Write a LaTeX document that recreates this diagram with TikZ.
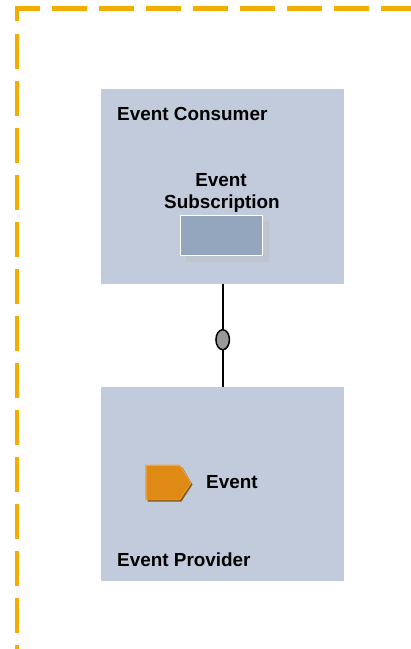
\documentclass[tikz,border=0pt]{standalone}
\usepackage{fontspec}
\usetikzlibrary{shapes.geometric}
\setmainfont{Liberation Sans}
\definecolor{boxblue}{HTML}{C1CBDB}
\definecolor{innerblue}{HTML}{94A6BD}
\definecolor{innershadow}{HTML}{BFC5CF}
\definecolor{dashorange}{HTML}{F2AE00}
\definecolor{evorange}{HTML}{E08A16}
\definecolor{evdark}{HTML}{8A5A12}
\definecolor{evlight}{HTML}{EBA94E}
\tikzset{
  x=1pt,y=-1pt,
  areabox/.style={fill=boxblue,draw=none,inner sep=0pt,anchor=north west},
  boundary/.style={draw=dashorange,line width=4.2pt,dash pattern=on 34.5pt off 12.5pt},
  txtleft/.style={font=\bfseries\fontsize{18.9}{22}\selectfont,text=black,inner sep=0pt,anchor=base west},
  txtmid/.style={font=\bfseries\fontsize{18.9}{22}\selectfont,text=black,inner sep=0pt,anchor=base},
  link/.style={draw=black,line width=1.7pt},
}
\begin{document}
\begin{tikzpicture}
\useasboundingbox[fill=white] (0,0) rectangle (411,649);
% dashed boundary
\draw[boundary,line join=miter] (17,20.5) -- (17,8.5) -- (411,8.5);
\draw[boundary] (17,34) -- (17,649);
% areas
\node[areabox,minimum width=243pt,minimum height=195pt] (consumer) at (101,89) {};
\node[areabox,minimum width=243pt,minimum height=194.5pt] (provider) at (101,386.5) {};
% connector and oval
\draw[link] (consumer.south) -- (provider.north);
\node[ellipse,draw=black,fill=black!40,line width=1.5pt,minimum width=13.5pt,minimum height=20pt,inner sep=0pt] (oval) at (222.7,339.7) {};
% labels
\node[txtleft] (consumerlabel) at (117,120) {Event Consumer};
\node[txtmid] (sublabela) at (221,186) {Event};
\node[txtmid] (sublabelb) at (222,208.3) {Subscription};
% subscription box
\fill[innershadow] (186,221) rectangle (269,262);
\node[draw=white,fill=innerblue,line width=1pt,inner sep=0pt,anchor=north west,minimum width=82pt,minimum height=40pt] (subbox) at (180,215) {};
% event shape
\fill[evdark] (147.5,467) -- (182,467) -- (192.5,484.5) -- (181.5,501.5) -- (147.5,501.5) -- cycle;
\fill[evlight] (145,464.5) -- (180,464.5) -- (191.5,483) -- (180,500) -- (145,500) -- cycle;
\fill[evorange] (146.5,466) -- (179.5,466) -- (190.5,483) -- (179.5,499.5) -- (146.5,499.5) -- cycle;
\node[txtleft] (eventlabel) at (206,488) {Event};
\node[txtleft] (providerlabel) at (117,566.5) {Event Provider};
\end{tikzpicture}
\end{document}
